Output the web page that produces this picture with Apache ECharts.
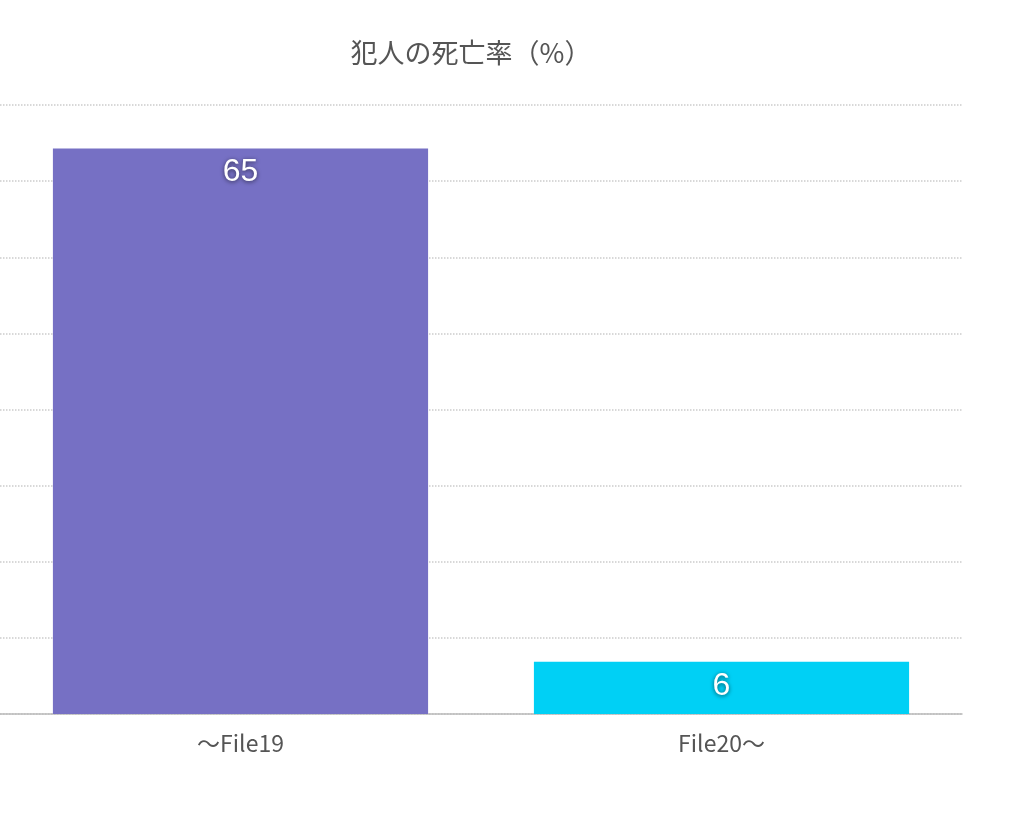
<!DOCTYPE html>
<html>
<head>
<meta charset="utf-8">
<script src="https://cdn.jsdelivr.net/npm/echarts@6/dist/echarts.min.js"></script>
<style>html,body{margin:0;padding:0;background:#fff}#main{width:1024px;height:821px}</style>
</head>
<body>
<div id="main"></div>
<script>
var categories = ['～File19', 'File20～'];
var values = [65, 6];
var barColors = ['#7670c4', '#00d0f5'];

var myChart = echarts.init(document.getElementById('main'));
var option = {
	animation : false,
	title : {
		text : '犯人の死亡率（%）',
		left : 466,
		top : 34,
		textAlign : 'center',
		textStyle : {
			color : '#555555',
			fontWeight : 'normal',
			fontSize : 27,
			fontFamily : 'Noto Sans CJK JP'
		}
	},
	grid : {
		left : 0,
		right : 62,
		top : 105,
		bottom : 107
	},
	xAxis : {
		type : 'category',
		data : categories,
		axisTick : { show : false },
		axisLine : { lineStyle : { color : '#bbbbbb', width : 1.5 } },
		axisLabel : {
			color : '#555555',
			fontSize : 23,
			margin : 18,
			fontFamily : 'Noto Sans CJK JP'
		}
	},
	yAxis : {
		type : 'value',
		min : 0,
		max : 70,
		interval : 8.75,
		axisLabel : { show : false },
		axisLine : { show : false },
		axisTick : { show : false },
		splitLine : { lineStyle : { color : '#cccccc', type : 'dotted', width : 1.5 } }
	},
	series : [ {
		type : 'bar',
		barWidth : '78%',
		data : values.map(function(v, i) {
			return { value : v, itemStyle : { color : barColors[i] } };
		}),
		label : {
			show : true,
			position : 'insideTop',
			distance : 8,
			color : '#ffffff',
			fontSize : 32,
			fontFamily : 'Liberation Sans',
			textShadowColor : 'rgba(0,0,0,0.6)',
			textShadowBlur : 4,
			textShadowOffsetY : 1
		}
	} ]
};
myChart.setOption(option);
</script>
</body>
</html>
